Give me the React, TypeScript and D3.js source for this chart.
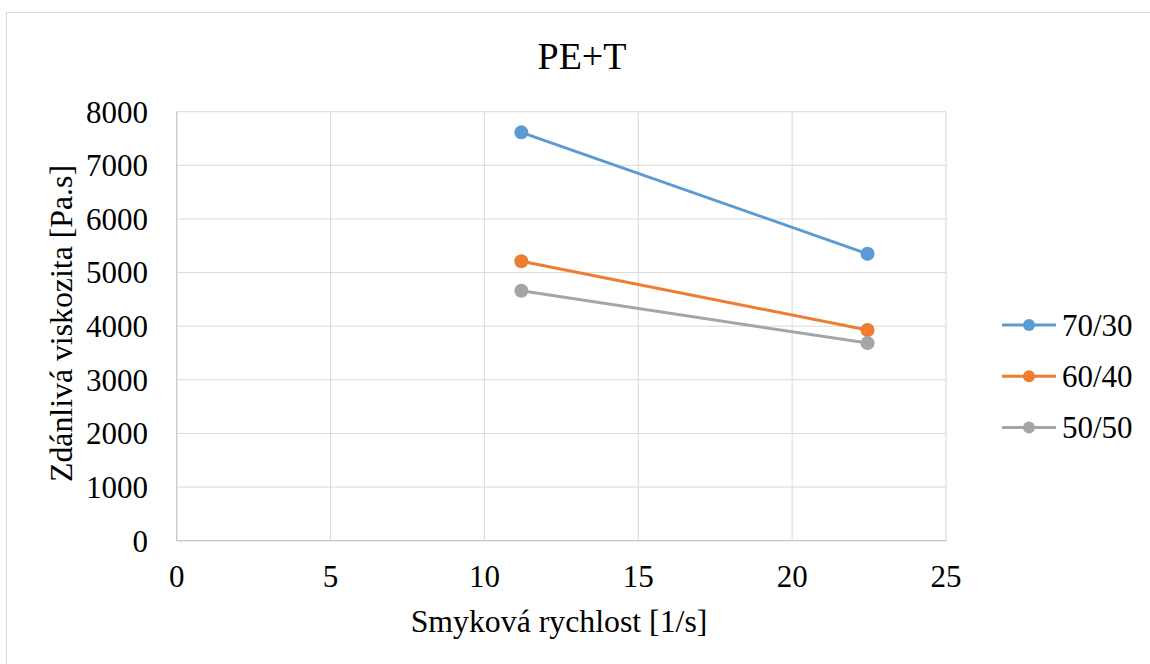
import React from "react";
import * as d3 from "d3";

const xValues = [11.2, 22.45];
const seriesNames = ["70/30", "60/40", "50/50"];
const seriesColors = ["#5b9bd5", "#ed7d31", "#a5a5a5"];
const series70_30 = [7615, 5350];
const series60_40 = [5210, 3930];
const series50_50 = [4660, 3685];
const xTicks = [0, 5, 10, 15, 20, 25];
const yTicks = [0, 1000, 2000, 3000, 4000, 5000, 6000, 7000, 8000];

const allSeries = [series70_30, series60_40, series50_50];

export default function App() {
  const W = 1150, H = 664;
  const left = 176.7, right = 946, top = 111.7, bottom = 540.7;
  const x = d3.scaleLinear().domain([0, 25]).range([left, right]);
  const y = d3.scaleLinear().domain([0, 8000]).range([bottom, top]);
  const line = d3.line<[number, number]>().x(d => x(d[0])).y(d => y(d[1]));
  const font = "'Liberation Serif', 'Times New Roman', serif";
  const fs = 31;
  const fsTitle = 31.8;

  return (
    <svg width={W} height={H} style={{ position: "absolute", left: 0, top: 0, background: "#fff" }}>
      <rect x={6.5} y={12.5} width={W + 10} height={H + 10} fill="#fff" stroke="#d9d9d9" strokeWidth={1} />
      <text x={582} y={69} textAnchor="middle" fontFamily={font} fontSize={38} fill="#000">PE+T</text>
      {yTicks.map(t => (
        <line key={"gy" + t} x1={left} x2={right} y1={y(t)} y2={y(t)} stroke="#d9d9d9" strokeWidth={1} />
      ))}
      {xTicks.map(t => (
        <line key={"gx" + t} x1={x(t)} x2={x(t)} y1={top} y2={bottom} stroke="#d9d9d9" strokeWidth={1} />
      ))}
      <line x1={left} x2={left} y1={top} y2={bottom} stroke="#c8c8c8" strokeWidth={1.2} />
      <line x1={left} x2={right} y1={bottom} y2={bottom} stroke="#c8c8c8" strokeWidth={1.2} />
      {yTicks.map(t => (
        <text key={"ty" + t} x={148} y={y(t)} dy="0.35em" textAnchor="end" fontFamily={font} fontSize={fs} fill="#000">{t}</text>
      ))}
      {xTicks.map(t => (
        <text key={"tx" + t} x={x(t)} y={587} textAnchor="middle" fontFamily={font} fontSize={fs} fill="#000">{t}</text>
      ))}
      <text x={559} y={632} textAnchor="middle" fontFamily={font} fontSize={fsTitle} fill="#000">Smyková rychlost [1/s]</text>
      <text transform={`translate(71.5,323.5) rotate(-90)`} textAnchor="middle" fontFamily={font} fontSize={fsTitle} fill="#000">Zdánlivá viskozita [Pa.s]</text>
      {allSeries.map((s, i) => {
        const pts: [number, number][] = s.map((v, j) => [xValues[j], v]);
        return (
          <g key={"s" + i}>
            <path d={line(pts) || ""} fill="none" stroke={seriesColors[i]} strokeWidth={3} />
            {pts.map((p, j) => (
              <circle key={j} cx={x(p[0])} cy={y(p[1])} r={7} fill={seriesColors[i]} />
            ))}
          </g>
        );
      })}
      {seriesNames.map((n, i) => {
        const ly = 325 + i * 51.3;
        return (
          <g key={"l" + i}>
            <line x1={1002} x2={1056} y1={ly} y2={ly} stroke={seriesColors[i]} strokeWidth={3} />
            <circle cx={1029} cy={ly} r={6} fill={seriesColors[i]} />
            <text x={1062} y={ly} dy="0.35em" fontFamily={font} fontSize={fs} fill="#000">{n}</text>
          </g>
        );
      })}
    </svg>
  );
}
